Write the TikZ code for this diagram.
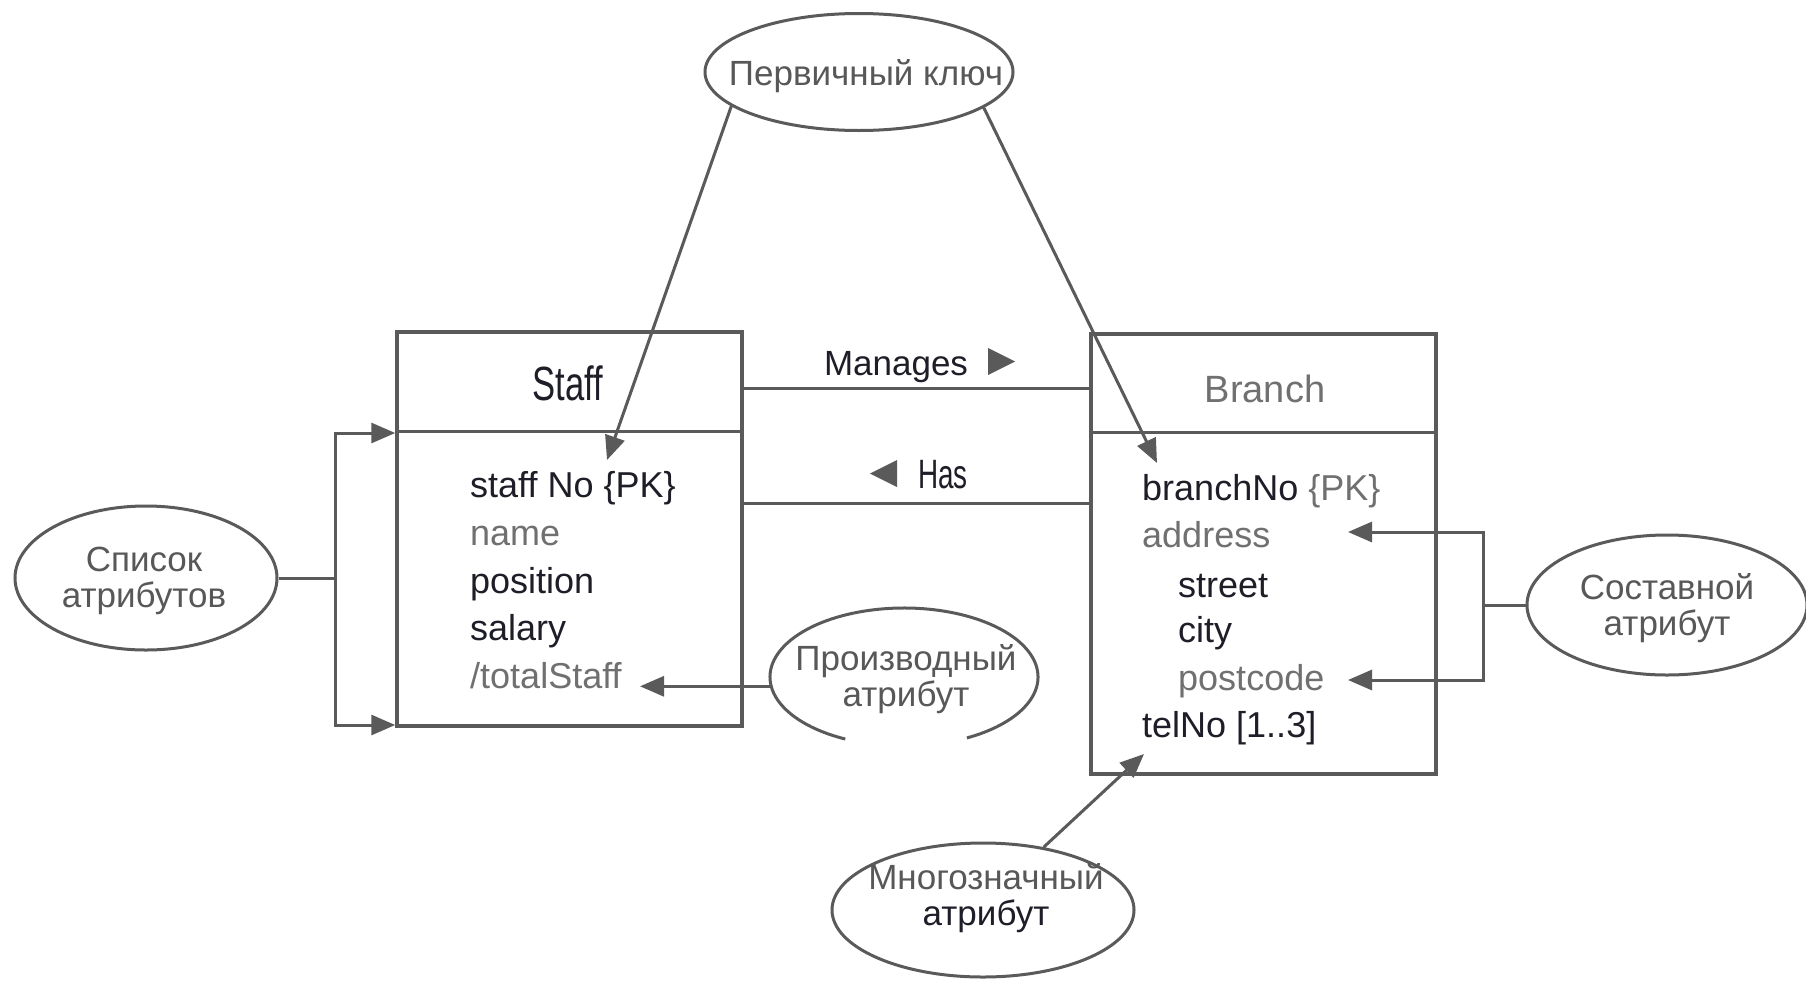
\documentclass[tikz,border=0pt]{standalone}
\usepackage{fontspec}
\setmainfont{Liberation Sans}
\usetikzlibrary{arrows.meta,shapes.geometric,calc}
\definecolor{ink}{HTML}{1E1E28}
\definecolor{soft}{HTML}{707070}
\definecolor{rule}{HTML}{5A5A5A}
\definecolor{bubbletext}{HTML}{585858}

\begin{document}
\begin{tikzpicture}[x=1pt,y=-1pt,
  box/.style={draw=rule,line width=3.5pt,rectangle,inner sep=0pt},
  conn/.style={draw=rule,line width=3pt},
  arr/.style={conn,-{Triangle[length=24pt,width=20pt]}},
  bubble/.style={ellipse,draw=rule,line width=3pt,inner sep=0pt},
  btext/.style={text=bubbletext,font=\fontsize{35}{36}\selectfont,align=center,inner sep=0pt},
  attr/.style={anchor=base west,inner sep=0pt,text=ink,font=\fontsize{36}{40}\selectfont},
  title/.style={anchor=base,inner sep=0pt,text=ink},
]
\useasboundingbox[fill=white] (0,0) rectangle (1806,980);

% class boxes
\node[box,minimum width=345pt,minimum height=394pt] (staff) at (569.5,529) {};
\node[box,minimum width=345pt,minimum height=440pt] (branch) at (1263.5,554) {};
\draw[box] ($(staff.north west)+(0,101)$) -- ($(staff.north east)+(0,101)$);
\draw[box] ($(branch.north west)+(0,100)$) -- ($(branch.north east)+(0,100)$);

% class names
\node[title] (stafftitle) at (568,400) {\scalebox{0.72}[1]{\fontsize{48}{50}\selectfont Staff}};
\node[title,text=soft] (branchtitle) at (1265,402) {\fontsize{38}{40}\selectfont Branch};

% attributes of Staff
\node[attr] (sno) at (470,497) {staff No \{PK\}};
\node[attr,text=soft] (sname) at (470,545) {name};
\node[attr] (spos) at (470,593) {position};
\node[attr] (ssal) at (470,640) {salary};
\node[attr,text=soft] (stot) at (470,688) {/totalStaff};

% attributes of Branch
\node[attr] (bno) at (1142,500) {branchNo \textcolor{soft}{\{PK\}}};
\node[attr,text=soft] (baddr) at (1142,547) {address};
\node[attr] (bstreet) at (1178,597) {street};
\node[attr] (bcity) at (1178,642) {city};
\node[attr,text=soft] (bpc) at (1178,690) {postcode};
\node[attr] (btel) at (1142,737) {telNo [1..3]};

% associations
\draw[box] ($(staff.north east)+(0,58)$) -- ($(branch.north west)+(0,56)$);
\draw[box] ($(staff.north east)+(0,173)$) -- ($(branch.north west)+(0,171)$);
\node[title,font=\fontsize{35}{40}\selectfont] (manages) at (896,375) {Manages};
\fill[rule] (988,348) -- (1015,361.5) -- (988,375) -- cycle;
\node[title] (has) at (943,488) {\scalebox{0.68}[1]{\fontsize{41}{44}\selectfont Has}};
\fill[rule] (897,460) -- (870,473.5) -- (897,487) -- cycle;

% callout ellipses
\node[bubble,minimum width=308pt,minimum height=117pt] (pk) at (859,72) {};
\node[btext] (pktext) at (866,76) {Первичный ключ};

\node[bubble,minimum width=262pt,minimum height=144pt] (sp) at (146,578) {};
\node[btext] (sptext) at (144,581) {Список\\атрибутов};

\node[ellipse,inner sep=0pt,minimum width=268pt,minimum height=138pt] (pa) at (904,677) {};
\draw[conn] (904,677) ++(116:134 and 69) arc[start angle=116,end angle=422,x radius=134,y radius=69];
\node[btext] (patext) at (906,679) {Производный\\атрибут};

\node[bubble,minimum width=280pt,minimum height=140pt] (sa) at (1667,605) {};
\node[btext] (satext) at (1667,608) {Составной\\атрибут};

\node[bubble,minimum width=302pt,minimum height=134pt] (mz) at (983,910) {};
\node[btext] (mztext) at (986,898) {Многозначный\\\textcolor{ink}{атрибут}};

% arrow targets
\coordinate (spk) at (607,460);
\coordinate (bpk) at (1157,463);
\coordinate (tstip) at (640,683);
\coordinate (teltip) at (1144,754);
\coordinate (lt) at (335,433);
\coordinate (lb) at (335,725);
\coordinate (rt) at (1483,532);
\coordinate (rb) at (1483,680);
\coordinate (addrtip) at (1348,532);
\coordinate (pctip) at (1348,680);

% primary key callout
\draw[arr] (pk.195) -- (spk);
\draw[arr] (pk.344) -- (bpk);

% attribute list bracket
\draw[conn] (sp.east) -- (sp.east -| lt);
\draw[arr] (sp.east -| lt) -- (lt) -- (lt -| staff.west);
\draw[arr] (sp.east -| lt) -- (lb) -- (lb -| staff.west);

% derived attribute
\draw[arr] (pa.184) -- (pa.184 -| tstip);

% composite attribute bracket
\draw[conn] (sa.west) -- (sa.west -| rt);
\draw[arr] (sa.west -| rt) -- (rt) -- (addrtip);
\draw[arr] (sa.west -| rt) -- (rb) -- (pctip);

% multi-valued attribute
\draw[arr] (mz.46) -- (teltip);
\end{tikzpicture}
\end{document}
